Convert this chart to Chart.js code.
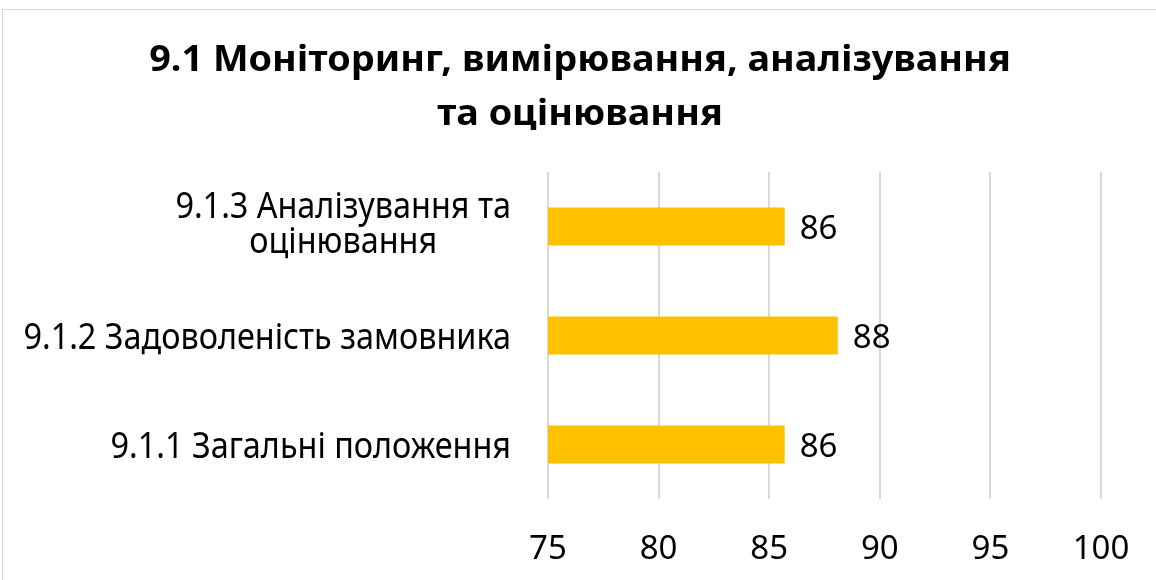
<!DOCTYPE html>
<html>
<head>
<meta charset="utf-8">
<script src="https://cdn.jsdelivr.net/npm/chart.js@4.4.1/dist/chart.umd.min.js"></script>
<style>
  html, body { margin: 0; padding: 0; background: #fff; overflow: hidden; }
  #wrap { position: relative; width: 1156px; height: 580px; }
  #frame { position: absolute; left: 2px; top: 9px; width: 1170px; height: 600px; border: 1px solid #d9d9d9; }
  canvas { position: absolute; left: 0; top: 0; }
</style>
</head>
<body>
<div id="wrap">
  <div id="frame"></div>
  <canvas id="chart" width="1156" height="580"></canvas>
</div>
<script>
// ---- data ----
const titleLines = ['9.1 Моніторинг, вимірювання, аналізування', 'та оцінювання'];
const categories = [
  ['9.1.3 Аналізування та', 'оцінювання'],
  ['9.1.2 Задоволеність замовника'],
  ['9.1.1 Загальні положення']
];
const scores = [85.7, 88.1, 85.7];
const xTicks = [75, 80, 85, 90, 95, 100];

const FONT = "'Noto Sans', sans-serif";
const CAT_SIZE = 36, CAT_SX = 0.9;     // Calibri is narrower, squeeze a bit
const NUM_SIZE = 33;
const TITLE_SIZE = 36, TITLE_SX = 1.05;

// title, drawn on alphabetic baselines
const titleDraw = {
  id: 'titleDraw',
  afterDraw(chart) {
    const { ctx } = chart;
    ctx.save();
    ctx.font = `bold ${TITLE_SIZE}px ${FONT}`;
    ctx.fillStyle = '#000';
    ctx.textAlign = 'center';
    ctx.textBaseline = 'alphabetic';
    ctx.scale(TITLE_SX, 1);
    titleLines.forEach((t, k) => ctx.fillText(t, 580 / TITLE_SX, 71 + k * 54));
    ctx.restore();
  }
};

// category labels: lines centred on each other, block right-aligned
const catLabels = {
  id: 'catLabels',
  afterDraw(chart) {
    const { ctx } = chart;
    const y = chart.scales.y;
    const right = chart.chartArea.left - 37;
    const lh = 35;
    ctx.save();
    ctx.font = `${CAT_SIZE}px ${FONT}`;
    ctx.fillStyle = '#000';
    ctx.textAlign = 'center';
    ctx.textBaseline = 'alphabetic';
    ctx.scale(CAT_SX, 1);
    categories.forEach((lines, i) => {
      const maxW = Math.max(...lines.map(l => ctx.measureText(l).width)) * CAT_SX;
      const cx = right - maxW / 2;
      const cy = y.getPixelForValue(i);
      const n = lines.length;
      lines.forEach((l, k) => {
        const by = cy + 13 + (k - (n - 1) / 2) * lh - (n - 1) * 4;
        ctx.fillText(l, cx / CAT_SX, by);
      });
    });
    ctx.restore();
  }
};

// value labels at bar ends
const valueLabels = {
  id: 'valueLabels',
  afterDatasetsDraw(chart) {
    const { ctx } = chart;
    const meta = chart.getDatasetMeta(0);
    ctx.save();
    ctx.font = `${NUM_SIZE}px ${FONT}`;
    ctx.fillStyle = '#000';
    ctx.textAlign = 'left';
    ctx.textBaseline = 'alphabetic';
    meta.data.forEach((bar, i) => ctx.fillText(String(Math.round(scores[i])), bar.x + 15, bar.y + 12.5));
    ctx.restore();
  }
};

new Chart(document.getElementById('chart'), {
  type: 'bar',
  data: {
    labels: categories,
    datasets: [{
      data: scores,
      backgroundColor: '#FFC000',
      barPercentage: 1,
      categoryPercentage: 0.35
    }]
  },
  options: {
    indexAxis: 'y',
    responsive: false,
    animation: false,
    layout: { padding: { left: 0, right: 55, top: 172, bottom: 0 } },
    plugins: {
      legend: { display: false },
      tooltip: { enabled: false },
      title: { display: false }
    },
    scales: {
      x: {
        min: 75, max: 100,
        afterBuildTicks: s => { s.ticks = xTicks.map(v => ({ value: v })); },
        afterFit: s => { s.height = 81; },
        // small padding + tall line box, so the last label does not eat into the right edge
        ticks: { color: '#000', padding: 11, font: { family: FONT, size: NUM_SIZE, lineHeight: 2.4 } },
        grid: { color: '#d9d9d9', lineWidth: 2, drawTicks: false },
        border: { display: false }
      },
      y: {
        afterFit: s => { s.width = 548; },
        ticks: { display: false },
        grid: { display: false },
        border: { display: false }
      }
    }
  },
  plugins: [titleDraw, catLabels, valueLabels]
});
</script>
</body>
</html>
